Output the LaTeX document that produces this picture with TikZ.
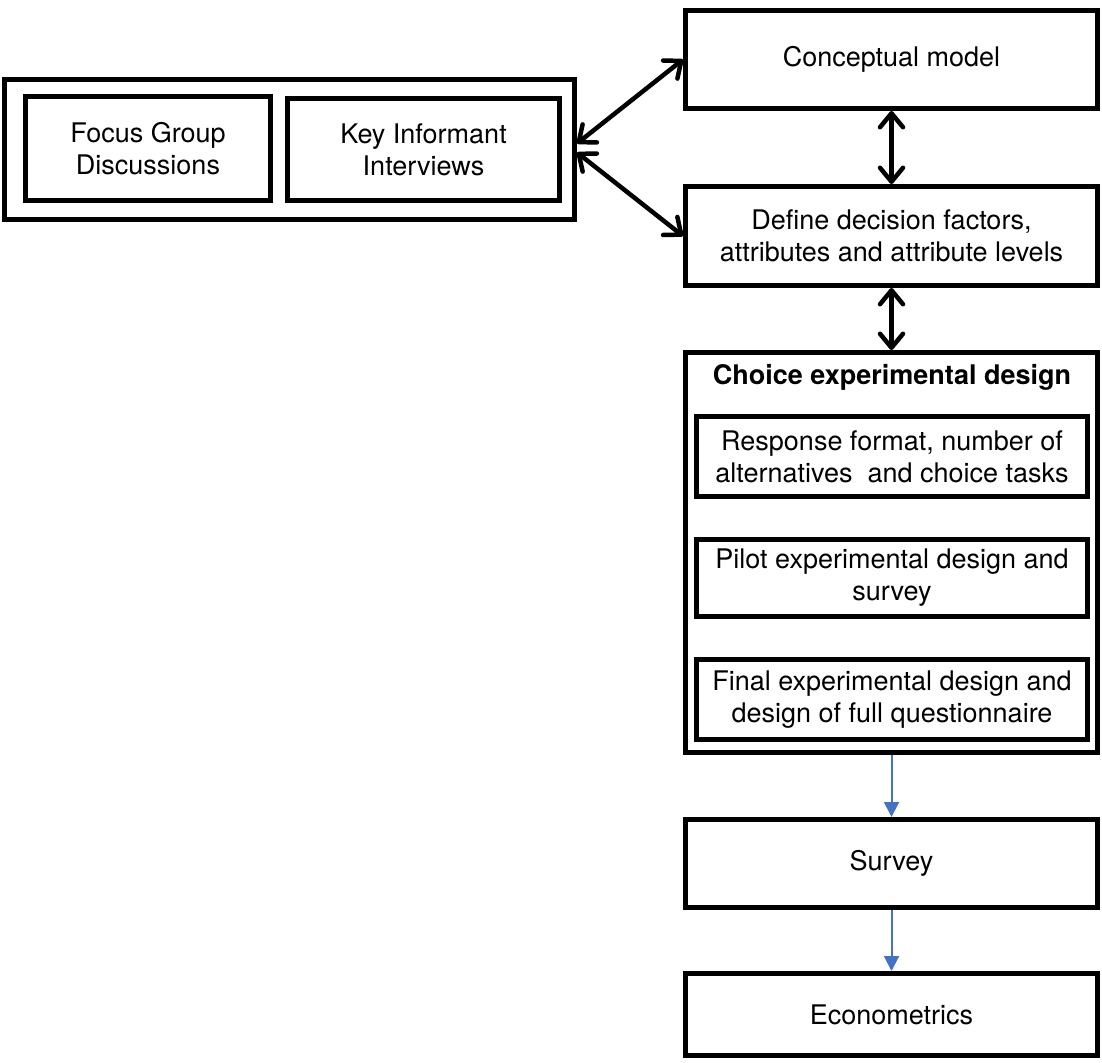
\documentclass[tikz,border=0pt]{standalone}
\usepackage{fontspec}
\setmainfont{TeX Gyre Heros}
\usetikzlibrary{arrows.meta}
\definecolor{arrowblue}{RGB}{68,114,196}
\begin{document}
\begin{tikzpicture}[x=1pt,y=-1pt,
  box/.style={draw=black, line width=5pt, fill=none, inner sep=0pt, align=center,
    font=\fontsize{27}{32}\selectfont},
  dbl/.style={line width=4.5pt, {Straight Barb[length=14pt,width=23pt,round]}-{Straight Barb[length=14pt,width=23pt,round]}},
  flow/.style={draw=arrowblue, line width=2pt, -{Triangle[length=15pt,width=15pt]}}
]
\useasboundingbox (0,0) rectangle (1102,1062);
% left group
\node[box, minimum width=570pt, minimum height=140pt] (group) at (289.5,149.5) {};
\node[box, minimum width=245pt, minimum height=104pt] (focus) at (148,148.5) {Focus Group\\Discussions};
\node[box, minimum width=272pt, minimum height=102pt] (key) at (423.5,149.5) {Key Informant\\Interviews};
% right column
\node[box, minimum width=412pt, minimum height=98pt] (concept) at (891.5,59.5) {Conceptual model};
\node[box, minimum width=412pt, minimum height=99pt] (define) at (891.5,236) {Define decision factors,\\attributes and attribute levels};
\node[box, minimum width=412pt, minimum height=400pt] (choice) at (891.5,552.5) {};
\node[font=\fontsize{27}{32}\selectfont\bfseries, inner sep=0pt] (title) at (892,377) {Choice experimental design};
\node[box, minimum width=391pt, minimum height=80pt] (resp) at (892,456.5) {Response format, number of\\alternatives\ \ and choice tasks};
\node[box, minimum width=391pt, minimum height=77pt] (pilot) at (892,578) {Pilot experimental design and\\survey};
\node[box, minimum width=391pt, minimum height=80pt] (final) at (892,699.5) {Final experimental design and\\design of full questionnaire};
\node[box, minimum width=412pt, minimum height=88pt] (survey) at (891.5,863.5) {Survey};
\node[box, minimum width=412pt, minimum height=82pt] (econ) at (891.5,1014.5) {Econometrics};
% connectors
\draw[dbl] ([yshift=6pt]group.east) -- (concept.west);
\draw[dbl] ([yshift=-3pt]group.east) -- (define.west);
\draw[dbl] (concept.south) -- (define.north);
\draw[dbl] (define.south) -- (choice.north);
\draw[flow] (choice.south) -- (survey.north);
\draw[flow] (survey.south) -- (econ.north);
\end{tikzpicture}
\end{document}
